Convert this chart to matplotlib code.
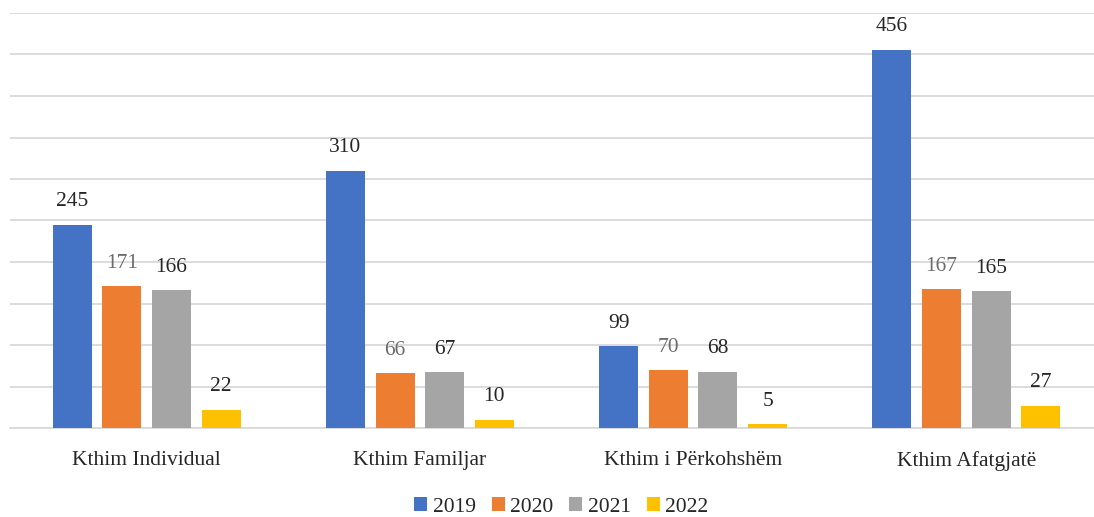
import numpy as np
import matplotlib.pyplot as plt

categories = ['Kthim Individual', 'Kthim Familjar', 'Kthim i Përkohshëm', 'Kthim Afatgjatë']
years = ['2019', '2020', '2021', '2022']
v2019 = [245, 310, 99, 456]
v2020 = [171, 66, 70, 167]
v2021 = [166, 67, 68, 165]
v2022 = [22, 10, 5, 27]

colors = ['#4472C4', '#ED7D31', '#A5A5A5', '#FFC000']
label_colors = ['#262626', '#6b6b6b', '#262626', '#262626']

plt.rcParams['font.family'] = ['Liberation Serif', 'DejaVu Serif']

fig = plt.figure(figsize=(10.94, 5.17), dpi=100)
ax = fig.add_axes([10 / 1094, 1 - 428 / 517, 1093 / 1094, 415 / 517])

x = np.arange(len(categories))
width = 0.143
pitch = 0.1817
series = [v2019, v2020, v2021, v2022]
for i, vals in enumerate(series):
    pos = x + (i - 1.5) * pitch
    bars = ax.bar(pos, vals, width, color=colors[i], label=years[i], zorder=3)
    for b, v in zip(bars, vals):
        ax.text(b.get_x() + b.get_width() / 2, v + 22, str(v), ha='center', va='baseline',
                fontsize=15.5, color=label_colors[i])

ax.set_xlim(-0.5, 3.5)
ax.set_ylim(0, 500)
ax.set_yticks(np.arange(0, 501, 50))
ax.yaxis.grid(True, color='#D9D9D9', linewidth=1.3, zorder=0)
ax.tick_params(axis='y', left=False, labelleft=False)
ax.tick_params(axis='x', bottom=False, labelsize=15.5, labelcolor='#262626', pad=13)
ax.set_xticks(x)
ax.set_xticklabels(categories)
for s in ['top', 'right', 'left']:
    ax.spines[s].set_visible(False)
ax.spines['bottom'].set_color('#D9D9D9')
ax.spines['bottom'].set_linewidth(1.3)

fig.legend(loc='center', bbox_to_anchor=(0.513, 1 - 507 / 517), ncol=4, frameon=False,
           fontsize=15.5, handlelength=0.6, handleheight=0.6, columnspacing=0.75, handletextpad=0.25,
           labelcolor='#262626')

fig.savefig('out.png', dpi=100)
